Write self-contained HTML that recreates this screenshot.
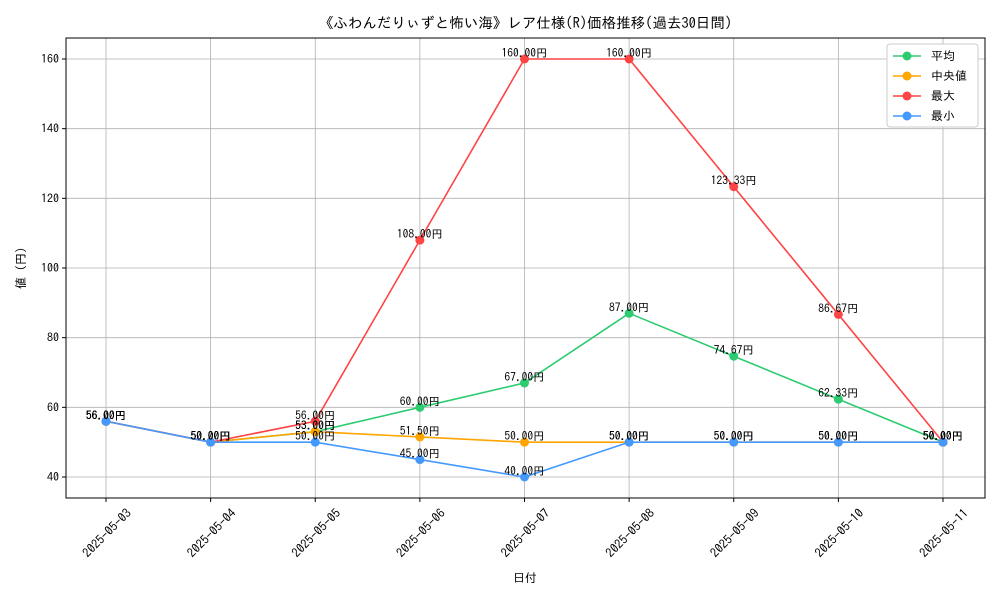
<!DOCTYPE html>
<html><head><meta charset="utf-8"><style>
body{margin:0;background:#fff;font-family:"Liberation Sans","IPAGothic","Noto Sans CJK JP",sans-serif;}
svg text{font-family:"IPAGothic","Noto Sans CJK JP",sans-serif;}
</style></head><body>
<svg id="c" width="1000" height="600"></svg>
<script>
const categories=["2025-05-03","2025-05-04","2025-05-05","2025-05-06","2025-05-07","2025-05-08","2025-05-09","2025-05-10","2025-05-11"];
const avgVals=[56,50,53,60,67,87,74.67,62.33,50];
const medVals=[56,50,53,51.5,50,50,50,50,50];
const maxVals=[56,50,56,108,160,160,123.33,86.67,50];
const minVals=[56,50,50,45,40,50,50,50,50];
const yTicks=[40,60,80,100,120,140,160];
const seriesNames=["平均","中央値","最大","最小"];
const colors=["#2ecc71","#ffa500","#ff4444","#4499ff"];
const NS="http://www.w3.org/2000/svg";
const svg=document.getElementById('c');
const L=66,R=985,T=38,B=498,ymin=33.97,ymax=166.03;
const x=i=>106+i*(943-106)/(categories.length-1);
const y=v=>B-(v-ymin)/(ymax-ymin)*(B-T);
function el(t,a,p){const e=document.createElementNS(NS,t);for(const k in a)e.setAttribute(k,a[k]);(p||svg).appendChild(e);return e;}
const grid=el('g',{});
categories.forEach((c,i)=>{el('line',{x1:x(i),x2:x(i),y1:T,y2:B,stroke:'#b0b0b0','stroke-width':0.8},grid);
 el('line',{x1:x(i),x2:x(i),y1:B,y2:B+4,stroke:'#000'});
 const t=el('text',{x:0,y:0,'font-size':12.5,'text-anchor':'middle',transform:`translate(${x(i)+4},${B+38}) rotate(-45)`});t.textContent=c;
 });
yTicks.forEach(v=>{el('line',{x1:L,x2:R,y1:y(v),y2:y(v),stroke:'#b0b0b0','stroke-width':0.8},grid);
 el('line',{x1:L-4,x2:L,y1:y(v),y2:y(v),stroke:'#000'});
 const t=el('text',{x:L-7,y:y(v)+4,'font-size':12,'text-anchor':'end'});t.textContent=v;
 });
const all=[avgVals,medVals,maxVals,minVals];
all.forEach((s,k)=>{const g=el('g',{});
 el('polyline',{points:s.map((v,i)=>x(i)+','+y(v)).join(' '),fill:'none',stroke:colors[k],'stroke-width':1.6},g);
 s.forEach((v,i)=>{const p=el('circle',{cx:x(i),cy:y(v),r:4.5,fill:colors[k]},g);});});
all.forEach((s,k)=>s.forEach((v,i)=>{const t=el('text',{x:x(i),y:y(v)-2,'font-size':11.5,'text-anchor':'middle'});t.textContent=v.toFixed(2)+'円';
 }));
el('rect',{x:L,y:T,width:R-L,height:B-T,fill:'none',stroke:'#000','stroke-width':1});
let t=el('text',{x:(L+R)/2,y:28,'font-size':14.5,'text-anchor':'middle'});t.textContent='《ふわんだりぃずと怖い海》レア仕様(R)価格推移(過去30日間)';
t=el('text',{x:525,y:582,'font-size':12,'text-anchor':'middle'});t.textContent='日付';
t=el('text',{x:0,y:0,'font-size':12,'text-anchor':'middle',transform:'translate(25,268) rotate(-90)'});t.textContent='値 (円)';
const lg=el('g',{});
el('rect',{x:887,y:44,width:91,height:83,fill:'#fff',stroke:'#ccc',rx:3},lg);
seriesNames.forEach((n,k)=>{const yy=56+k*20;const e=el('g',{},lg);
 el('line',{x1:893,x2:921,y1:yy,y2:yy,stroke:colors[k],'stroke-width':1.6},e);el('circle',{cx:907,cy:yy,r:4.5,fill:colors[k]},e);
 const tt=el('text',{x:931,y:yy+4,'font-size':12},e);tt.textContent=n;});
</script></body></html>
